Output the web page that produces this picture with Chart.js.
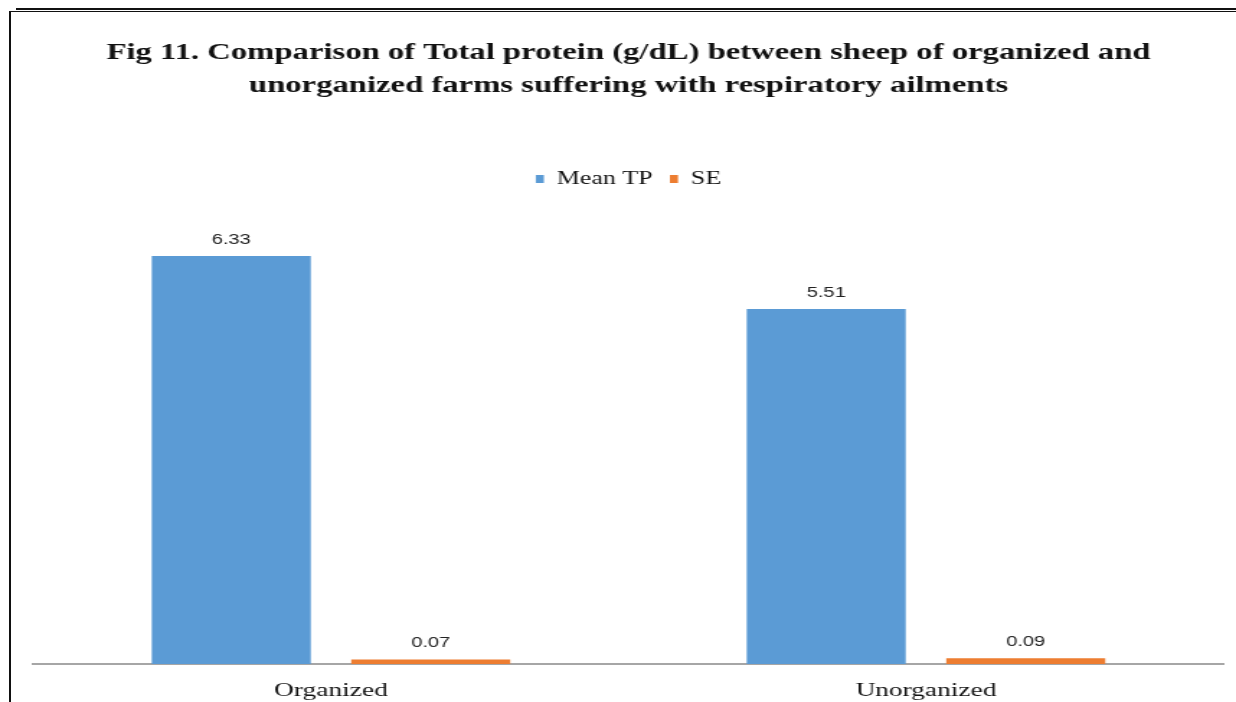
<!DOCTYPE html>
<html>
<head>
<meta charset="utf-8">
<script src="https://cdn.jsdelivr.net/npm/chart.js@4.4.1/dist/chart.umd.min.js"></script>
<style>
  html, body { margin: 0; padding: 0; background: #fff; }
  #page { position: relative; width: 1236px; height: 702px; overflow: hidden; background: #fff; }
  #topline { position: absolute; left: 16px; right: 0; top: 8px; height: 2px; background: #111; }
  #frame { position: absolute; left: 9px; top: 11px; width: 1300px; height: 760px; border-left: 2px solid #111; border-top: 1.5px solid #111; }
  #wrap { position: absolute; left: 0; top: 0; width: 858px; height: 719px; transform: scaleX(1.44056); transform-origin: 0 0; }
</style>
</head>
<body>
<div id="page">
  <div id="topline"></div>
  <div id="frame"></div>
  <div id="wrap"><canvas id="c"></canvas></div>
</div>
<script>
const titleLines = [
  "Fig 11. Comparison of Total protein (g/dL) between sheep of organized and",
  "unorganized farms suffering with respiratory ailments"
];
const categories = ["Organized", "Unorganized"];
const meanTP = [6.33, 5.51];
const seValues = [0.07, 0.09];
const seriesNames = ["Mean TP", "SE"];

const valueLabels = {
  id: 'valueLabels',
  afterDatasetsDraw(chart) {
    const ctx = chart.ctx;
    ctx.save();
    ctx.font = '14px "Liberation Sans", Arial, sans-serif';
    ctx.fillStyle = '#222';
    ctx.textAlign = 'center';
    ctx.textBaseline = 'bottom';
    chart.data.datasets.forEach((ds, i) => {
      const meta = chart.getDatasetMeta(i);
      meta.data.forEach((el, j) => {
        ctx.fillText(ds.data[j].toFixed(2), el.x, el.y - 9);
      });
    });
    ctx.restore();
  }
};

new Chart(document.getElementById('c'), {
  type: 'bar',
  data: {
    labels: categories,
    datasets: [
      { label: seriesNames[0], data: meanTP, backgroundColor: '#5B9BD5', barPercentage: 0.797, categoryPercentage: 0.6706 },
      { label: seriesNames[1], data: seValues, backgroundColor: '#ED7D31', barPercentage: 0.797, categoryPercentage: 0.6706 }
    ]
  },
  options: {
    responsive: true,
    maintainAspectRatio: false,
    animation: false,
    devicePixelRatio: 1,
    layout: { padding: { left: 23.25, right: 8.7, top: 0, bottom: 0.2 } },
    plugins: {
      title: {
        display: true,
        text: titleLines,
        color: '#111',
        font: { family: '"Liberation Serif", "Times New Roman", serif', size: 22.7, weight: 'bold', lineHeight: 1.4537 },
        padding: { top: 36.5, bottom: 55.5 }
      },
      legend: {
        display: true,
        position: 'top',
        labels: {
          color: '#111',
          font: { family: '"Liberation Serif", "Times New Roman", serif', size: 18 },
          boxWidth: 5.6,
          boxHeight: 8,
          padding: 12
        }
      },
      tooltip: { enabled: false }
    },
    scales: {
      x: {
        grid: { display: false, drawTicks: false },
        border: { display: true, color: '#A6A6A6', width: 2 },
        ticks: {
          color: '#111',
          padding: 16,
          font: { family: '"Liberation Serif", "Times New Roman", serif', size: 19 }
        }
      },
      y: {
        display: false,
        min: 0,
        max: 7.232
      }
    }
  },
  plugins: [valueLabels]
});
</script>
</body>
</html>
